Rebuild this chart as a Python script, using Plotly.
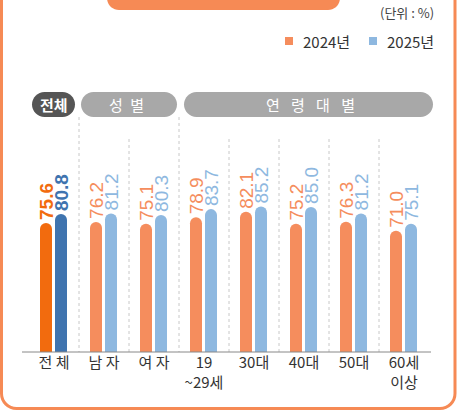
import plotly.graph_objects as go

categories = ["전 체", "남 자", "여 자", "19<br>~29세", "30대", "40대", "50대", "60세<br>이상"]
v2024 = [75.6, 76.2, 75.1, 78.9, 82.1, 75.2, 76.3, 71.0]
v2025 = [80.8, 81.2, 80.3, 83.7, 85.2, 85.0, 81.2, 75.1]
series_names = ["2024년", "2025년"]
group_labels = ["전체", "성\u2002별", "연\u2002\u2005령\u2002\u2005대\u2002\u2005별"]

W, H = 460, 411
L, R_, T, B = 29, 31, 120, 59
PW = W - L - R_
PH = H - T - B
BOTTOM = H - B

ORANGE = "#F58D5D"
ORANGE_D = "#F26B0E"
BLUE = "#8EB8E0"
BLUE_D = "#3F74AF"
FRAME = "#F68A55"
KFONT = "Noto Sans CJK KR"
NFONT = "Liberation Sans, Arial, sans-serif"


def px(x):
    return (x - L) / PW


def py(y):
    return (BOTTOM - y) / PH


def P(x, y):
    return f"{px(x):.5f},{py(y):.5f}"


def rrect_path(x0, y0, x1, y1, r, corners=(True, True, True, True)):
    # corners: tl, tr, br, bl
    k = 0.5523 * r
    tl, tr, br, bl = corners
    s = ["M" + P(x0 + (r if tl else 0), y0)]
    if tr:
        s.append("L" + P(x1 - r, y0))
        s.append("C" + P(x1 - r + k, y0) + " " + P(x1, y0 + r - k) + " " + P(x1, y0 + r))
    else:
        s.append("L" + P(x1, y0))
    if br:
        s.append("L" + P(x1, y1 - r))
        s.append("C" + P(x1, y1 - r + k) + " " + P(x1 - r + k, y1) + " " + P(x1 - r, y1))
    else:
        s.append("L" + P(x1, y1))
    if bl:
        s.append("L" + P(x0 + r, y1))
        s.append("C" + P(x0 + r - k, y1) + " " + P(x0, y1 - r + k) + " " + P(x0, y1 - r))
    else:
        s.append("L" + P(x0, y1))
    if tl:
        s.append("L" + P(x0, y0 + r))
        s.append("C" + P(x0, y0 + r - k) + " " + P(x0 + r - k, y0) + " " + P(x0 + r, y0))
    else:
        s.append("L" + P(x0, y0))
    s.append("Z")
    return " ".join(s)


def open_frame_path(x0, y0, x1, y1, r):
    k = 0.5523 * r
    s = ["M" + P(x0, y0)]
    s.append("L" + P(x0, y1 - r))
    s.append("C" + P(x0, y1 - r + k) + " " + P(x0 + r - k, y1) + " " + P(x0 + r, y1))
    s.append("L" + P(x1 - r, y1))
    s.append("C" + P(x1 - r + k, y1) + " " + P(x1, y1 - r + k) + " " + P(x1, y1 - r))
    s.append("L" + P(x1, y0))
    return " ".join(s)


xs = list(range(len(categories)))
n = len(categories)

c24 = [ORANGE_D] + [ORANGE] * (n - 1)
c25 = [BLUE_D] + [BLUE] * (n - 1)
t24 = [f"<b>{v:.1f}</b>" if i == 0 else f"{v:.1f}" for i, v in enumerate(v2024)]
t25 = [f"<b>{v:.1f}</b>" if i == 0 else f"{v:.1f}" for i, v in enumerate(v2025)]

fig = go.Figure()
fig.add_trace(go.Bar(
    x=xs, y=v2024, name=series_names[0], width=0.24, offset=-0.28,
    marker=dict(color=c24, cornerradius=6, line=dict(width=0)),
    text=t24, textposition="outside", textangle=-90, constraintext="none",
    textfont=dict(family=NFONT, size=19, color=c24), cliponaxis=False,
    hoverinfo="skip",
))
fig.add_trace(go.Bar(
    x=xs, y=v2025, name=series_names[1], width=0.24, offset=0.02,
    marker=dict(color=c25, cornerradius=6, line=dict(width=0)),
    text=t25, textposition="outside", textangle=-90, constraintext="none",
    textfont=dict(family=NFONT, size=19, color=c25), cliponaxis=False,
    hoverinfo="skip",
))

shapes = []
# outer frame
shapes.append(dict(type="path", xref="paper", yref="paper",
                   path=open_frame_path(1.5, -20, 455, 408.5, 15),
                   line=dict(color=FRAME, width=3), fillcolor="rgba(0,0,0,0)", layer="below"))
# top banner
shapes.append(dict(type="path", xref="paper", yref="paper",
                   path=rrect_path(107, -20, 340, 10, 12, corners=(False, False, True, True)),
                   line=dict(width=0), fillcolor=FRAME, layer="below"))
# group pills
pills = [(32, 75, "#555555"), (81, 177, "#A8A8A8"), (184, 433, "#A8A8A8")]
for x0, x1, col in pills:
    shapes.append(dict(type="path", xref="paper", yref="paper",
                       path=rrect_path(x0, 92, x1, 117, 12.5),
                       line=dict(width=0), fillcolor=col, layer="below"))
# dotted separators
for i in range(1, n):
    xpix = L + 50 * i
    ytop = 117 if i in (1, 3) else 139
    shapes.append(dict(type="line", xref="paper", yref="paper",
                       x0=px(xpix), x1=px(xpix), y0=py(ytop), y1=py(BOTTOM),
                       line=dict(color="#C8C8C8", width=1, dash="dot"), layer="below"))
# baseline
shapes.append(dict(type="line", xref="paper", yref="paper",
                   x0=px(22), x1=px(431), y0=py(BOTTOM), y1=py(BOTTOM),
                   line=dict(color="#888888", width=1)))
# legend squares
shapes.append(dict(type="rect", xref="paper", yref="paper",
                   x0=px(285), x1=px(293), y0=py(37), y1=py(45),
                   line=dict(width=0), fillcolor=ORANGE))
shapes.append(dict(type="rect", xref="paper", yref="paper",
                   x0=px(369), x1=px(377), y0=py(37), y1=py(45),
                   line=dict(width=0), fillcolor=BLUE))

annotations = []
annotations.append(dict(xref="paper", yref="paper", x=px(301), y=py(41), xanchor="left", yanchor="middle",
                        text=series_names[0], showarrow=False,
                        font=dict(family=KFONT, size=15, color="#333333")))
annotations.append(dict(xref="paper", yref="paper", x=px(385), y=py(41), xanchor="left", yanchor="middle",
                        text=series_names[1], showarrow=False,
                        font=dict(family=KFONT, size=15, color="#333333")))
annotations.append(dict(xref="paper", yref="paper", x=px(436), y=py(13), xanchor="right", yanchor="middle",
                        text="(단위 : %)", showarrow=False,
                        font=dict(family=KFONT, size=13, color="#444444")))
label_centers = [54, 126, 310]
for (x0, x1, col), lab, cx in zip(pills, group_labels, label_centers):
    bold = col == "#555555"
    annotations.append(dict(xref="paper", yref="paper", x=px(cx), y=py(104.5),
                            xanchor="center", yanchor="middle",
                            text=f"<b>{lab}</b>" if bold else lab, showarrow=False,
                            font=dict(family=KFONT, size=15, color="white")))

fig.update_layout(
    width=W, height=H,
    margin=dict(l=L, r=R_, t=T, b=B, pad=0),
    paper_bgcolor="white", plot_bgcolor="white",
    showlegend=False,
    barmode="overlay",
    xaxis=dict(range=[-0.5, n - 0.5], tickmode="array", tickvals=xs, ticktext=categories,
               showgrid=False, zeroline=False, showline=False, ticks="",
               tickfont=dict(family=KFONT, size=15, color="#333333"), fixedrange=True),
    yaxis=dict(range=[0, PH / 1.707], visible=False, showgrid=False, zeroline=False, fixedrange=True),
    shapes=shapes,
    annotations=annotations,
    font=dict(family=KFONT),
)

fig.write_html("out.html", config={"displayModeBar": False},
               post_script="document.body.style.margin='0';document.body.style.overflow='hidden';")
